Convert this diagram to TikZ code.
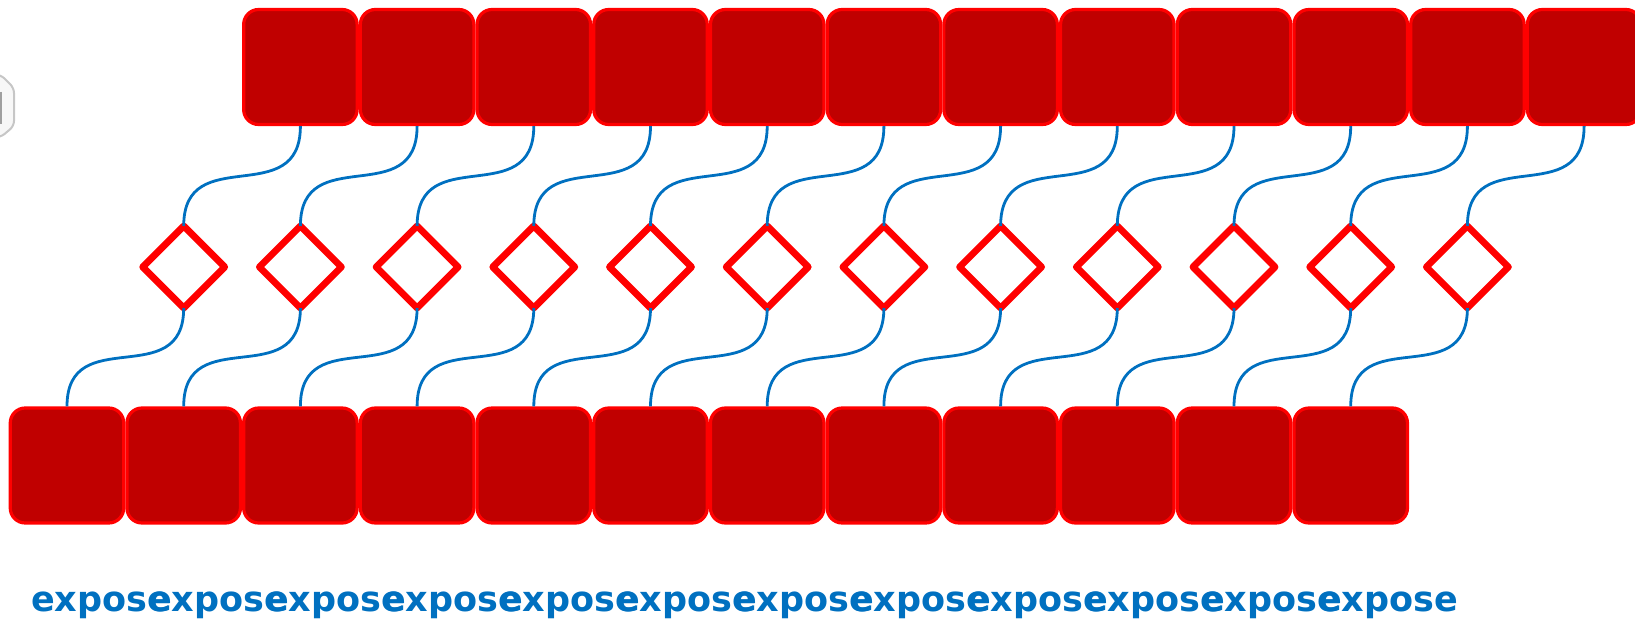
\documentclass[tikz,border=0pt]{standalone}
\usepackage{fontspec}
\newfontfamily\lblfont{DejaVu Sans}
\usetikzlibrary{shapes.geometric}
\definecolor{boxfill}{HTML}{C00000}
\definecolor{boxline}{HTML}{FF0000}
\definecolor{linkblue}{HTML}{0070C0}
\tikzset{
  redbox/.style={draw=boxline, fill=boxfill, line width=3.2pt, rounded corners=15pt,
    minimum width=113.5pt, minimum height=115pt, inner sep=0pt},
  gate/.style={draw=boxline, fill=white, shape=diamond, line width=6.8pt, line join=round,
    minimum width=82pt, minimum height=82pt, inner sep=0pt, outer sep=0pt},
  link/.style={draw=linkblue, line width=2.8pt, out=-90, in=90, looseness=1.42},
  lbl/.style={text=linkblue, font=\lblfont\bfseries\fontsize{35}{40}\selectfont, inner sep=0pt, anchor=base}
}
\begin{document}
\begin{tikzpicture}[x=1pt,y=-1pt]
\useasboundingbox (0,0) rectangle (1635,620);
% partially visible gray icon at the left edge
\draw[gray!45, line width=2pt, fill=gray!6, rounded corners=5pt]
  (-25,73) -- (1,75) -- (14,88) -- (14,126) -- (1,137) -- (-25,139) -- cycle;
\draw[gray!75, line width=2.5pt] (1,92) -- (1,124);
% bottom boxes (columns 0..11)
\foreach \i in {0,...,11} {
  \node[redbox] (b\i) at ({67+\i*116.7},465.5) {};
}
% top boxes (columns 2..13)
\foreach \i in {1,...,12} {
  \node[redbox] (t\i) at ({67+(\i+1)*116.7},67) {};
}
% diamonds (columns 1..12)
\foreach \i in {1,...,12} {
  \node[gate] (d\i) at ({67+\i*116.7},267) {};
}
% connectors
\foreach \i [evaluate=\i as \j using int(\i-1)] in {1,...,12} {
  \draw[link] (t\i.south) to (d\i.north);
  \draw[link] (d\i.south) to (b\j.north);
}
% labels
\foreach \i in {0,...,11} {
  \node[lbl] (l\i) at ({101+\i*117},611) {expose};
}
\end{tikzpicture}
\end{document}
